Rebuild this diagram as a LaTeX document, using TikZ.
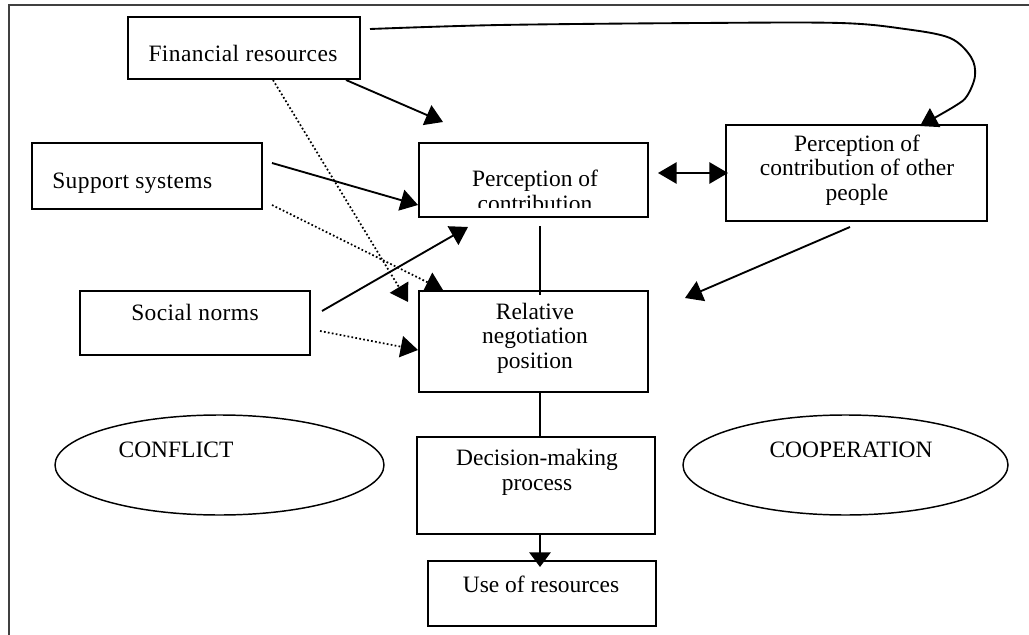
\documentclass[tikz,border=0pt]{standalone}
\usepackage{fontspec}
\setmainfont{Liberation Serif}
\newfontfamily\spacedfont[LetterSpace=1.8]{Liberation Serif}
\usetikzlibrary{arrows.meta,shapes.geometric}
\begin{document}
\begin{tikzpicture}[x=0.75pt,y=-0.75pt,
  box/.style={draw, line width=1.5pt, rectangle, inner sep=0pt},
  oval/.style={draw, line width=1.1pt, ellipse, inner sep=0pt},
  txt/.style={inner sep=0pt, anchor=base, align=center, font=\fontsize{17.6}{18.3}\selectfont},
  stxt/.style={txt, font=\spacedfont\fontsize{17.6}{18.3}\selectfont},
  conn/.style={line width=1.4pt},
  tip/.style={-{Triangle[length=13pt,width=16pt]}},
  dots/.style={line width=1.3pt, dash pattern=on 1.3pt off 1.7pt},
]
\useasboundingbox (0,0) rectangle (1029,635);
\fill[white] (0,0) rectangle (1029,635);
\draw[line width=1.6pt, black!75] (9,635) -- (9,5) -- (1029,5);

% boxes
\node[box, minimum width=174pt, minimum height=46.5pt] (fin) at (244,48) {};
\node[box, minimum width=172.5pt, minimum height=49.5pt] (sup) at (147,176) {};
\node[box, minimum width=172.5pt, minimum height=48pt] (soc) at (195,323) {};
\node[box, minimum width=171.75pt, minimum height=55.5pt] (pc) at (533.5,180) {};
\node[box, minimum width=195.75pt, minimum height=72pt] (oth) at (856.5,173) {};
\node[box, minimum width=171.75pt, minimum height=75.75pt] (rel) at (533.5,341.5) {};
\node[box, minimum width=178.5pt, minimum height=72.75pt] (dec) at (536,485.5) {};
\node[box, line width=1pt, minimum width=171pt, minimum height=48.75pt] (use) at (542,593.5) {};
\node[oval, minimum width=246.75pt, minimum height=75pt] (conf) at (219.5,465) {};
\node[oval, minimum width=243.75pt, minimum height=75pt] (coop) at (845.5,465) {};

% texts (multi-line nodes: base anchor = last line's baseline)
\node[stxt] (fin-t) at (243,62) {Financial resources};
\node[stxt, anchor=base west] (sup-t) at (52,188) {Support systems};
\node[stxt] (soc-t) at (195,320) {Social norms};
\begin{scope}
\clip (pc.north west) rectangle (pc.east |- 0,207);
\node[txt] (pc-t) at (535,211) {Perception of\\contribution};
\end{scope}
\node[txt] (oth-t) at (857,200) {Perception of\\contribution of other\\people};
\node[txt] (rel-t) at (535,368) {Relative\\negotiation\\position};
\node[txt] (dec-t) at (537,490) {Decision-making\\process};
\node[txt] (use-t) at (541,592) {Use of resources};
\node[txt] (conf-t) at (176,457) {CONFLICT};
\node[txt] (coop-t) at (851,457) {COOPERATION};

% connector end points
\coordinate (fin-a) at (346,80);   \coordinate (pc-a) at (443,122);
\coordinate (sup-a) at (272,163);  \coordinate (pc-b) at (418,205);
\coordinate (soc-a) at (322,311);  \coordinate (pc-c) at (468,227);
\coordinate (fin-b) at (273,80);   \coordinate (rel-a) at (408,302);
\coordinate (sup-b) at (272,205);  \coordinate (rel-b) at (443,290);
\coordinate (soc-b) at (320,331);  \coordinate (rel-c) at (418,350);
\coordinate (pc-d) at (540,226);   \coordinate (rel-d) at (540,295);
\coordinate (rel-e) at (540,392);  \coordinate (dec-a) at (540,437);
\coordinate (dec-b) at (540,534);  \coordinate (use-a) at (540,567);
\coordinate (pc-e) at (658,173);   \coordinate (oth-a) at (728,173);
\coordinate (oth-b) at (850,227);  \coordinate (free-a) at (685,298);
\coordinate (fin-c) at (370,29);   \coordinate (oth-c) at (920,126);

% solid connectors
\draw[conn, tip] (fin-a) -- (pc-a);
\draw[conn, tip] (sup-a) -- (pc-b);
\draw[conn, tip] (soc-a) -- (pc-c);
\draw[conn, {Triangle[length=14pt,width=16pt]}-{Triangle[length=14pt,width=16pt]}] (pc-e) -- (oth-a);
\draw[conn, tip] (oth-b) -- (free-a);
\draw[conn] (pc-d) -- (rel-d);
\draw[conn] (rel-e) -- (dec-a);
\draw[conn, -{Triangle[length=11pt,width=16pt]}] (dec-b) -- (use-a);

% dotted connectors
\draw[dots, tip] (fin-b) -- (rel-a);
\draw[dots, tip] (sup-b) -- (rel-b);
\draw[dots, tip] (soc-b) -- (rel-c);

% curved connector
\draw[conn, tip] plot[smooth, tension=0.55] coordinates {(fin-c) (500,25) (700,23) (840,23) (905,29) (950,38) (971,57) (975,76) (967,96) (955,106) (oth-c)};
\end{tikzpicture}
\end{document}
